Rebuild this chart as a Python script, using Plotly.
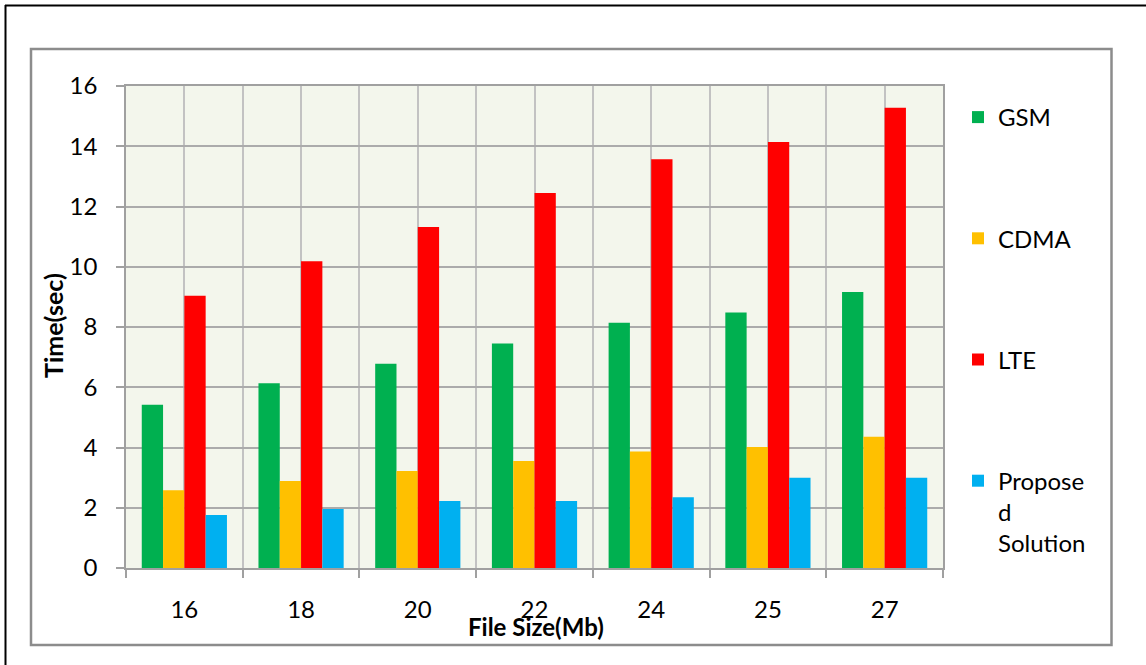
import plotly.graph_objects as go

categories = ["16", "18", "20", "22", "24", "25", "27"]
gsm = [5.42, 6.13, 6.78, 7.45, 8.14, 8.48, 9.16]
cdma = [2.58, 2.89, 3.22, 3.55, 3.87, 4.02, 4.36]
lte = [9.04, 10.18, 11.32, 12.45, 13.57, 14.14, 15.28]
proposed = [1.76, 1.96, 2.22, 2.22, 2.35, 3.0, 3.0]
series_names = ["GSM", "CDMA", "LTE", "Propose<br>d<br>Solution"]
series_colors = ["#00B050", "#FFC000", "#FF0000", "#00B0F0"]
y_ticks = [0, 2, 4, 6, 8, 10, 12, 14, 16]

W, H = 1146, 665
L, R, T, B = 126, 943, 86, 568
FONT = "Lato"

xpos = list(range(len(categories)))
fig = go.Figure()
for name, vals, col in zip(series_names, [gsm, cdma, lte, proposed], series_colors):
    fig.add_trace(go.Bar(x=xpos, y=vals, name=name, marker_color=col,
                         marker_line_width=0, legendgroup=name))

def px_x(p):
    return (p - L) / (R - L)

def px_y(p):
    return (B - p) / (B - T)

shapes = [
    dict(type="rect", xref="paper", yref="paper", x0=px_x(31), x1=px_x(1111.5),
         y0=px_y(645), y1=px_y(49), line=dict(color="#8C8C8C", width=2.5), layer="below"),
    dict(type="line", xref="paper", yref="paper", x0=px_x(5), x1=px_x(1146),
         y0=px_y(5.5), y1=px_y(5.5), line=dict(color="#000000", width=2)),
    dict(type="line", xref="paper", yref="paper", x0=px_x(5.5), x1=px_x(5.5),
         y0=px_y(5), y1=px_y(665), line=dict(color="#000000", width=2)),
]

annotations = [
    dict(text="<b>File Size(Mb)</b>", xref="paper", yref="paper", x=px_x(536), y=px_y(626),
         showarrow=False, font=dict(family=FONT, size=24, color="#000"), xanchor="center", yanchor="middle"),
    dict(text="<b>Time(sec)</b>", xref="paper", yref="paper", x=px_x(53), y=px_y(326),
         showarrow=False, textangle=-90, font=dict(family=FONT, size=25, color="#000"),
         xanchor="center", yanchor="middle"),
]

fig.update_layout(
    width=W, height=H, autosize=False,
    margin=dict(l=L, r=W - R, t=T, b=H - B, pad=0),
    paper_bgcolor="#FFFFFF", plot_bgcolor="#F3F6EC",
    barmode="group", bargap=0.27, bargroupgap=0,
    font=dict(family=FONT, size=24, color="#000"),
    shapes=shapes, annotations=annotations,
    legend=dict(xref="container", yref="container", x=958 / W, y=1 - 95 / H,
                xanchor="left", yanchor="top", tracegroupgap=87, valign="top",
                maxheight=640,
                font=dict(family=FONT, size=24, color="#000"), bgcolor="rgba(0,0,0,0)"),
    xaxis=dict(range=[-0.5, len(categories) - 0.5], tickmode="array", tickvals=xpos,
               ticktext=categories, ticks="", showgrid=True, gridcolor="#C2C2C2", gridwidth=1.5,
               showline=True, linecolor="#A0A0A0", linewidth=1.5, mirror=True, zeroline=False,
               ticklabelstandoff=19,
               minor=dict(tickmode="array", tickvals=[i - 0.5 for i in range(len(categories) + 1)],
                          ticks="outside", ticklen=8, tickcolor="#A0A0A0", tickwidth=1.5,
                          showgrid=True, gridcolor="#C2C2C2", gridwidth=1.5)),
    yaxis=dict(range=[0, 16], tickmode="array", tickvals=y_ticks, ticks="outside", ticklen=8,
               tickcolor="#A0A0A0", tickwidth=1.5, showgrid=True, gridcolor="#ABABAB", gridwidth=2,
               showline=True, linecolor="#A0A0A0", linewidth=1.5, mirror=True, zeroline=False,
               ticklabelstandoff=14),
)

fig.write_html("out.html")
